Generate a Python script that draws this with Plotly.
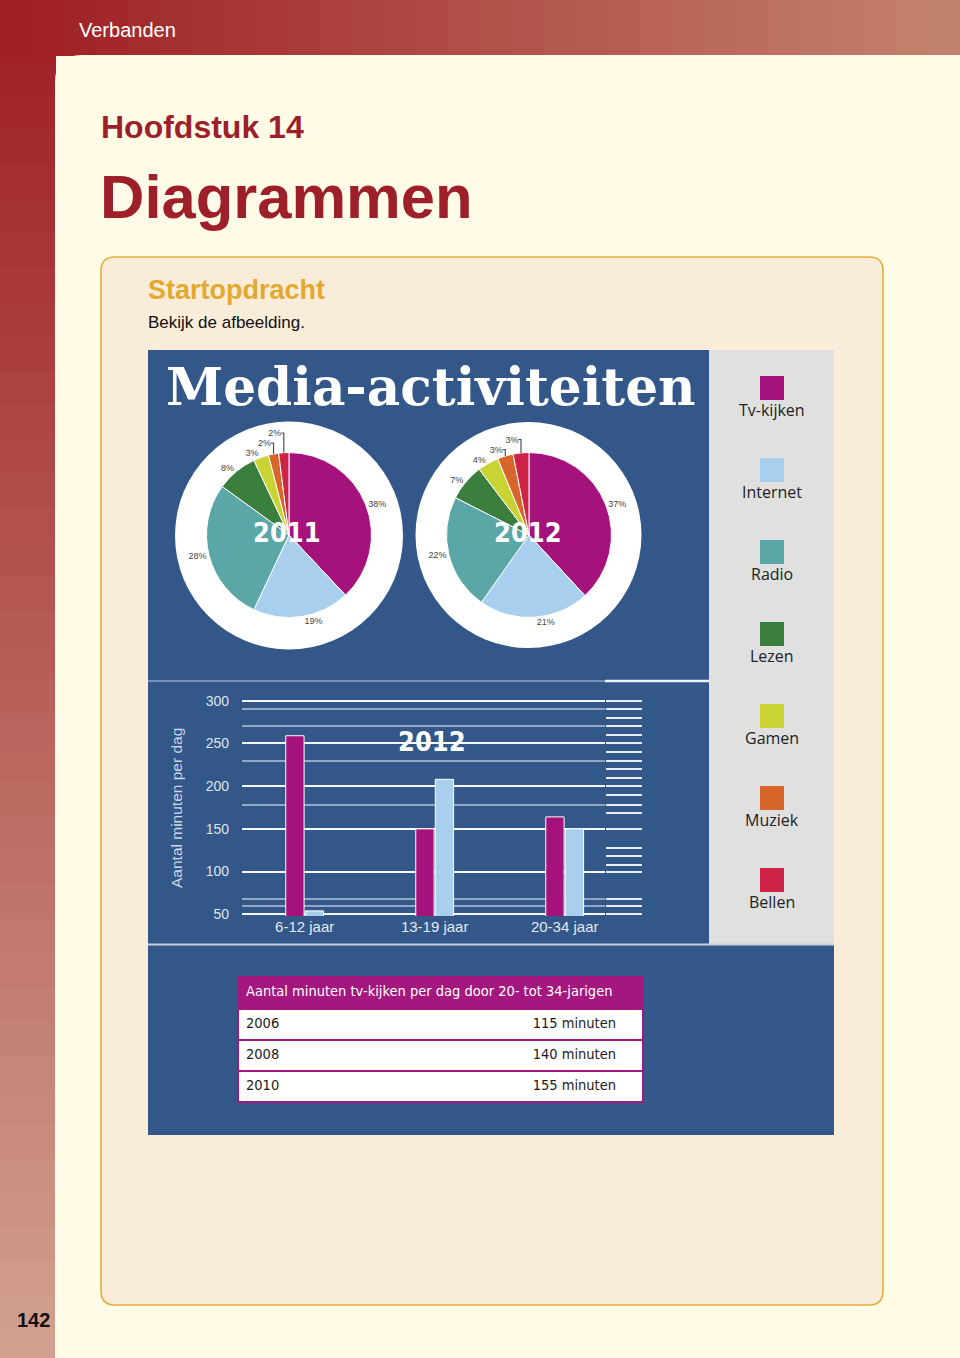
import plotly.graph_objects as go

W, H = 960, 1358

# ---------------- data ----------------
activities = ["Tv-kijken", "Internet", "Radio", "Lezen", "Gamen", "Muziek", "Bellen"]
colors = ["#a5127b", "#a9cfee", "#5ba7a7", "#3b7f3e", "#c9d334", "#d8662a", "#cc2346"]
share_2011 = [38, 19, 28, 8, 3, 2, 2]
share_2012 = [37, 21, 22, 7, 4, 3, 3]

age_groups = ["6-12 jaar", "13-19 jaar", "20-34 jaar"]
tv_minutes = [259, 150, 164]
internet_minutes = [54, 208, 150]
y_ticks = [50, 100, 150, 200, 250, 300]
minor_grid = [290, 270, 230, 178, 68, 60]
ruler_lines = [300, 290, 280, 270, 260, 250, 240, 230, 220, 210, 200, 190,
               178, 168, 150, 128, 118, 108, 100, 68, 60, 50]

table_years = ["2006", "2008", "2010"]
table_minutes = ["115 minuten", "140 minuten", "155 minuten"]
table_title = "Aantal minuten tv-kijken per dag door 20- tot 34-jarigen"

# ---------------- helpers ----------------
# page pixel -> paper fraction (vertical mapping calibrated to the rendered page)
TOP_OFF, VIS_H = 6.0, 1346.0

def px(x):
    return x / W

def py(y):
    return 1 - (y - TOP_OFF) / VIS_H

def P(x, y):
    return f"{px(x):.5f},{py(y):.5f}"

def rrect(x0, y0, x1, y1, r):
    return (f"M {P(x0 + r, y0)} L {P(x1 - r, y0)} Q {P(x1, y0)} {P(x1, y0 + r)} "
            f"L {P(x1, y1 - r)} Q {P(x1, y1)} {P(x1 - r, y1)} L {P(x0 + r, y1)} "
            f"Q {P(x0, y1)} {P(x0, y1 - r)} L {P(x0, y0 + r)} Q {P(x0, y0)} {P(x0 + r, y0)} Z")

def lerp(c1, c2, t):
    a = [int(c1[i:i + 2], 16) for i in (1, 3, 5)]
    b = [int(c2[i:i + 2], 16) for i in (1, 3, 5)]
    return "#" + "".join(f"{round(a[k] + (b[k] - a[k]) * t):02x}" for k in range(3))

def rect(x0, y0, x1, y1, fill, line_color=None, lw=0, layer="below"):
    return dict(type="rect", xref="paper", yref="paper", x0=px(x0), x1=px(x1),
                y0=py(y1), y1=py(y0), fillcolor=fill, layer=layer,
                line=dict(color=line_color or "rgba(0,0,0,0)", width=lw))

def hline(x0, x1, y, color, lw):
    return dict(type="line", xref="paper", yref="paper", x0=px(x0), x1=px(x1),
                y0=py(y), y1=py(y), line=dict(color=color, width=lw), layer="below")

shapes = []
annotations = []

# ---------------- page background ----------------
dark, light_side, light_top = "#9d1c22", "#d2a291", "#c4846e"
n = 40
step = (H + 12) / n
for i in range(n):
    shapes.append(rect(0, -6 + i * step, 56, -6 + (i + 1) * step + 1,
                       lerp(dark, light_side, (i + 0.5) / n)))
m = 30
stepx = W / m
for i in range(m):
    shapes.append(rect(i * stepx, -8, (i + 1) * stepx + 1, 56, lerp(dark, light_top, (i + 0.5) / m)))

# cream panel with rounded top-left corner
shapes.append(dict(type="path", xref="paper", yref="paper", layer="below",
                   path=(f"M {P(55, H + 8)} L {P(55, 82)} Q {P(55, 55)} {P(82, 55)} "
                         f"L {P(W, 55)} L {P(W, H + 8)} Z"),
                   fillcolor="#fffbe6", line=dict(width=0)))
# inner assignment box
shapes.append(dict(type="path", xref="paper", yref="paper", layer="below",
                   path=rrect(101, 257, 883, 1305, 14),
                   fillcolor="#f9ecd9", line=dict(color="#e3ae3c", width=1.6)))

# ---------------- infographic panels ----------------
shapes.append(rect(148, 350, 710, 944, "#325788"))
shapes.append(rect(709, 350, 834, 944, "#e0e0e0"))
shapes.append(rect(148, 944, 834, 1135, "#325788"))
shapes.append(hline(148, 834, 944.5, "#c9d2e0", 2))
shapes.append(hline(148, 605, 681, "#8fa3c2", 1.5))
shapes.append(hline(605, 709, 681, "#eef3fa", 2.5))

# white discs behind pies
for cx, cy, r in [(289, 535.5, 114), (528.5, 535, 113)]:
    shapes.append(dict(type="circle", xref="paper", yref="paper", layer="below",
                       x0=px(cx - r), x1=px(cx + r), y0=py(cy + r), y1=py(cy - r),
                       fillcolor="white", line=dict(width=0)))

# ---------------- traces ----------------
fig = go.Figure()

for share, (cx, cy) in [(share_2011, (289, 535)), (share_2012, (529, 535))]:
    r = 82.5
    fig.add_trace(go.Pie(
        labels=activities, values=share, text=[f"{v}%" for v in share],
        textinfo="text", textposition="outside", sort=False, direction="clockwise",
        rotation=0, hoverinfo="skip", showlegend=False,
        marker=dict(colors=colors, line=dict(color="white", width=1)),
        textfont=dict(size=9, color="#444444", family="Liberation Sans"),
        domain=dict(x=[px(cx - r), px(cx + r)], y=[py(cy + r), py(cy - r)]),
    ))

fig.add_trace(go.Bar(x=age_groups, y=tv_minutes, name=activities[0],
                     marker=dict(color=colors[0], line=dict(color="white", width=1)),
                     xaxis="x", yaxis="y", showlegend=False, hoverinfo="skip"))
fig.add_trace(go.Bar(x=age_groups, y=internet_minutes, name=activities[1],
                     marker=dict(color=colors[1], line=dict(color="white", width=1)),
                     xaxis="x", yaxis="y", showlegend=False, hoverinfo="skip"))
fig.add_trace(go.Scatter(x=[], y=[], xaxis="x", yaxis="y2", showlegend=False))
fig.add_trace(go.Scatter(x=[], y=[], xaxis="x2", yaxis="y3", showlegend=False))

# table: years (left) + minutes (right, transparent overlay)
narrow = "DejaVu Sans Condensed, Liberation Sans"
t_top, t_bot = 977, 1105
fig.add_trace(go.Table(
    domain=dict(x=[px(238), px(643)], y=[py(t_bot), py(t_top)]),
    columnwidth=[1],
    header=dict(values=[table_title], fill_color="#a3177e", align="left", height=32,
                line=dict(color="#a3177e", width=1.5),
                font=dict(color="white", size=14.5, family=narrow)),
    cells=dict(values=[table_years], fill_color="white", align="left", height=31,
               line=dict(color="#a3177e", width=1.5),
               font=dict(color="#1c1c1c", size=14.5, family=narrow)),
))
fig.add_trace(go.Table(
    domain=dict(x=[px(238), px(624)], y=[py(t_bot), py(t_top)]),
    header=dict(values=[""], fill_color="rgba(0,0,0,0)", height=32,
                line=dict(color="rgba(0,0,0,0)", width=0)),
    cells=dict(values=[table_minutes], fill_color="rgba(0,0,0,0)", align="right", height=31,
               line=dict(color="rgba(0,0,0,0)", width=0),
               font=dict(color="#1c1c1c", size=14.5, family=narrow)),
))

# ---------------- legend (built from categories) ----------------
for i, (name, col) in enumerate(zip(activities, colors)):
    top = 376 + i * 82
    shapes.append(rect(760, top, 784, top + 24, col, layer="above"))
    annotations.append(dict(text=name, x=px(772), y=py(top + 34), xref="paper", yref="paper",
                            xanchor="center", yanchor="middle", showarrow=False,
                            font=dict(size=16, color="#222222", family="Open Sans")))

# ---------------- texts ----------------
def txt(s, x, y, size, color, family="Liberation Sans", xanchor="left", angle=0):
    annotations.append(dict(text=s, x=px(x), y=py(y), xref="paper", yref="paper",
                            xanchor=xanchor, yanchor="middle", showarrow=False, textangle=angle,
                            font=dict(size=size, color=color, family=family)))

txt("Verbanden", 77, 30, 20, "white")
txt("<b>Hoofdstuk 14</b>", 99, 127, 32, "#9c1f29")
txt("<b>Diagrammen</b>", 98, 197, 61.5, "#9c1f29")
txt("<b>Startopdracht</b>", 146, 290, 27, "#e2a92f")
txt("Bekijk de afbeelding.", 146, 322, 17, "#111111")
txt("<b>142</b>", 15, 1320, 20, "#111111")
txt("<b>Media-activiteiten</b>", 164, 386, 51.7, "white", family="DejaVu Serif")
heavy = "DejaVu Sans Condensed, Liberation Sans"
txt("<b>2011</b>", 287, 533, 27, "white", family=heavy, xanchor="center")
txt("<b>2012</b>", 528, 533, 27, "white", family=heavy, xanchor="center")
txt("<b>2012</b>", 432, 742, 27, "white", family=heavy, xanchor="center")
txt("Aantal minuten per dag", 176, 808, 15.5, "#cdd6e6", xanchor="center", angle=-90)

# ---------------- layout ----------------
y0_px, y1_px = 916.0, 699.0
fig.update_layout(
    width=W, height=H, margin=dict(l=0, r=0, t=0, b=0),
    paper_bgcolor="#fffbe6", plot_bgcolor="rgba(0,0,0,0)",
    barmode="group", bargap=0.7, bargroupgap=0.06,
    shapes=shapes, annotations=annotations,
    font=dict(family="Liberation Sans"),
    xaxis=dict(domain=[px(242), px(605)], anchor="y", type="category",
               range=[-0.482, 2.31], showgrid=False, zeroline=False, showline=False,
               ticks="", tickfont=dict(size=15, color="#e3e8f1"), fixedrange=True),
    yaxis=dict(domain=[py(y0_px), py(y1_px)], anchor="x", range=[48, 302],
               tickvals=y_ticks, showgrid=True, gridcolor="#f4f7fc", gridwidth=2,
               zeroline=False, showline=False, ticks="", ticklabelstandoff=12,
               tickfont=dict(size=14, color="#dfe5ef"), fixedrange=True),
    yaxis2=dict(overlaying="y", anchor="x", range=[48, 302], tickvals=minor_grid,
                showgrid=True, gridcolor="#93a7c6", gridwidth=1.5, showticklabels=False,
                zeroline=False, showline=False, ticks=""),
    xaxis2=dict(domain=[px(605.5), px(641.5)], anchor="y3", range=[0, 1],
                showgrid=False, zeroline=False, showticklabels=False, showline=False),
    yaxis3=dict(domain=[py(y0_px), py(y1_px)], anchor="x2", range=[48, 302],
                tickvals=ruler_lines, showgrid=True, gridcolor="#e6eef9", gridwidth=2,
                showticklabels=False, zeroline=False, showline=False, ticks=""),
)

fig.write_html("out.html")
